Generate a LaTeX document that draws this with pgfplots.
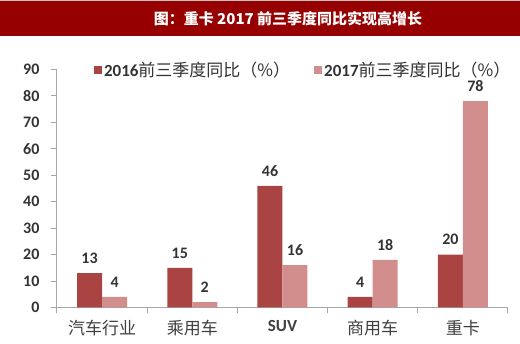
\documentclass[border=0pt]{standalone}
\usepackage{fontspec}
\setmainfont{Carlito}
\newfontfamily\cjk{Noto Sans CJK SC}
\usepackage{pgfplots}
\pgfplotsset{compat=1.18}
\definecolor{darkbar}{HTML}{A94442}
\definecolor{lightbar}{HTML}{D28E8D}
\definecolor{titlered}{HTML}{960000}
\definecolor{axisgray}{HTML}{A6A6A6}
\definecolor{txt}{HTML}{333333}
\definecolor{cattxt}{HTML}{404040}
\begin{document}
\begin{tikzpicture}[x=1pt,y=1pt]
\useasboundingbox (0,0) rectangle (520,344);
\fill[white] (0,0) rectangle (520,344);
\fill[titlered] (0,308) rectangle (520,343);
\draw[gray!50] (0,343.5) -- (520,343.5);
\node[white,font=\cjk\bfseries\fontsize{15}{15}\selectfont] at (288,325.5) {图：重卡 2017 前三季度同比实现高增长};
\begin{axis}[
  at={(57pt,36.5pt)}, anchor=south west,
  scale only axis, width=451pt, height=238pt,
  xmin=-0.5, xmax=4.5, ymin=0, ymax=90,
  /pgf/number format/assume math mode=true,
  ybar=0pt, bar width=25pt,
  axis x line*=bottom, axis y line*=left,
  axis line style={axisgray, line width=1pt},
  xtick={0,...,4},
  xticklabels={{\cjk 汽车行业},{\cjk 乘用车},{\bfseries SUV},{\cjk 商用车},{\cjk 重卡}},
  major x tick style={draw=none},
  minor xtick={-0.5,0.5,1.5,2.5,3.5,4.5},
  ytick={0,10,...,90},
  tick align=outside, major tick length=6pt, minor tick length=6pt,
  tick style={axisgray, line width=1pt},
  x tick label style={font=\fontsize{17}{17}\selectfont, text=cattxt, yshift=-3pt},
  y tick label style={font=\fontsize{16}{16}\selectfont\bfseries, text=txt, xshift=-8pt},
  nodes near coords,
  every node near coord/.append style={font=\fontsize{16}{16}\selectfont\bfseries, text=txt, yshift=6pt},
  legend style={at={(0.075,1.0)}, anchor=west, draw=none, fill=none,
     font=\fontsize{17}{17}\selectfont, text=txt,
     /tikz/every even column/.append style={column sep=22pt}},
  legend columns=2,
  legend image code/.code={\fill[#1] (0pt,-4pt) rectangle (8pt,4pt);},
  clip=false,
]
\addplot[fill=darkbar, draw=none] coordinates {(0,13) (1,15) (2,46) (3,4) (4,20)};
\addplot[fill=lightbar, draw=none] coordinates {(0,4) (1,2) (2,16) (3,18) (4,78)};
\legend{{\bfseries 2016}{\cjk 前三季度同比（\%）},{\bfseries 2017}{\cjk 前三季度同比（\%）}}
\end{axis}
\end{tikzpicture}
\end{document}
